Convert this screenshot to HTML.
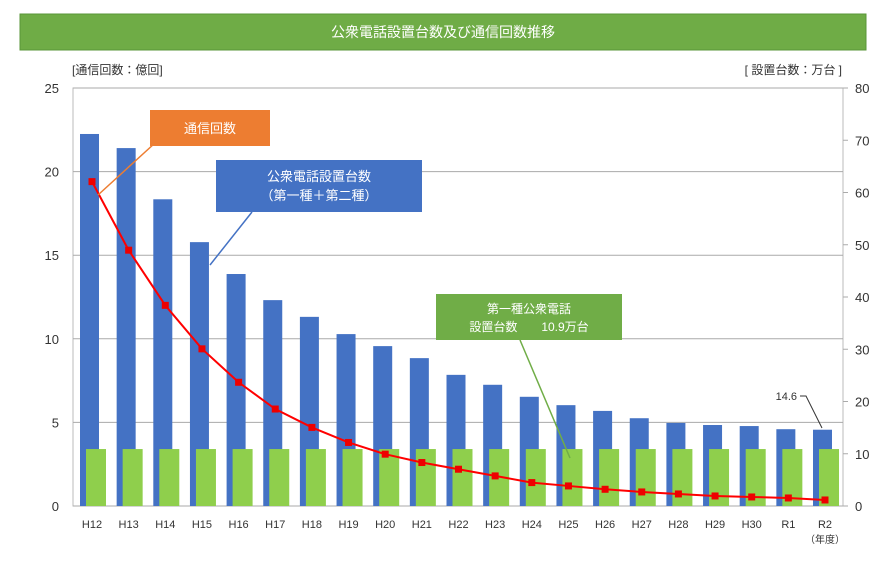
<!DOCTYPE html>
<html><head><meta charset="utf-8"><style>
body{margin:0;background:#fff;font-family:"Liberation Sans","Noto Sans CJK JP",sans-serif;}
svg text{font-family:"Liberation Sans","Noto Sans CJK JP",sans-serif;}
</style></head><body>
<svg id="c" width="886" height="562" xmlns="http://www.w3.org/2000/svg">
<rect x="20" y="14" width="846" height="36" fill="#6fac46" stroke="#5a9638"/>
<text x="443" y="37" font-size="14" fill="#fff" text-anchor="middle">公衆電話設置台数及び通信回数推移</text>
<text x="72" y="74" font-size="12" fill="#333">[通信回数：億回]</text>
<text x="842" y="74" font-size="12" fill="#333" text-anchor="end">[ 設置台数：万台 ]</text>
<g id="g"></g>
</svg>
<script>
const categories=["H12","H13","H14","H15","H16","H17","H18","H19","H20","H21","H22","H23","H24","H25","H26","H27","H28","H29","H30","R1","R2"];
const phoneCounts=[71.2,68.5,58.7,50.5,44.4,39.4,36.2,32.9,30.6,28.3,25.1,23.2,20.9,19.3,18.2,16.8,15.9,15.5,15.3,14.7,14.6];
const type1Counts=[10.9,10.9,10.9,10.9,10.9,10.9,10.9,10.9,10.9,10.9,10.9,10.9,10.9,10.9,10.9,10.9,10.9,10.9,10.9,10.9,10.9];
const calls=[19.4,15.3,12.0,9.4,7.4,5.8,4.7,3.8,3.1,2.6,2.2,1.8,1.4,1.2,1.0,0.84,0.72,0.6,0.54,0.48,0.36];
const leftTicks=[0,5,10,15,20,25];
const rightTicks=[0,10,20,30,40,50,60,70,80];
const NS="http://www.w3.org/2000/svg";
const g=document.getElementById('g');
const L=73,R=843,B=506,T=88;
const yL=v=>B-(v/25)*(B-T);
const yR=v=>B-(v/80)*(B-T);
const xC=i=>92+i*36.65;
function mk(t,a){const e=document.createElementNS(NS,t);for(const k in a)e.setAttribute(k,a[k]);g.appendChild(e);return e;}
let e;
e=mk('rect',{x:L,y:T,width:R-L,height:B-T,fill:'none',stroke:'#bbb'});


leftTicks.forEach(v=>{
 e=mk('line',{x1:L,x2:R,y1:yL(v),y2:yL(v),stroke:'#aaa'});
 
 
 e=mk('text',{x:L-14,y:yL(v)+5,'font-size':13,fill:'#333','text-anchor':'end'});e.textContent=v;
 
 
});
rightTicks.forEach(v=>{
 e=mk('line',{x1:R,x2:R+5,y1:yR(v),y2:yR(v),stroke:'#aaa'});
 
 
 e=mk('text',{x:R+12,y:yR(v)+5,'font-size':13,fill:'#333'});e.textContent=v;
 
 
});
categories.forEach((c,i)=>{
 e=mk('rect',{x:xC(i)-12,y:yR(phoneCounts[i]),width:19,height:B-yR(phoneCounts[i]),fill:'#4472c4'});
 
 
 e=mk('rect',{x:xC(i)-6,y:yR(type1Counts[i]),width:20,height:B-yR(type1Counts[i]),fill:'#8fcf4c'});
 
 
 e=mk('text',{x:xC(i),y:528,'font-size':11,fill:'#333','text-anchor':'middle'});e.textContent=c;
 
 
});
e=mk('text',{x:xC(20),y:543,'font-size':10,fill:'#333','text-anchor':'middle'});e.textContent='（年度）';


let d='';calls.forEach((v,i)=>{d+=(i?'L':'M')+xC(i)+' '+yL(v);});
e=mk('path',{d:d,fill:'none',stroke:'#ff0000','stroke-width':2});


calls.forEach((v,i)=>{
 e=mk('rect',{x:xC(i)-3.5,y:yL(v)-3.5,width:7,height:7,fill:'#e00'});
 
 
});
// callouts
e=mk('line',{x1:98,y1:195,x2:155,y2:143,stroke:'#ed7d31','stroke-width':1.5});


e=mk('rect',{x:150,y:110,width:120,height:36,fill:'#ed7d31'});


e=mk('text',{x:210,y:133,'font-size':13,fill:'#fff','text-anchor':'middle'});e.textContent='通信回数';


e=mk('line',{x1:210,y1:265,x2:252,y2:212,stroke:'#4472c4','stroke-width':1.5});


e=mk('rect',{x:216,y:160,width:206,height:52,fill:'#4472c4'});


e=mk('text',{x:319,y:181,'font-size':13,fill:'#fff','text-anchor':'middle'});e.textContent='公衆電話設置台数';


e=mk('text',{x:319,y:200,'font-size':13,fill:'#fff','text-anchor':'middle'});e.textContent='（第一種＋第二種）';


e=mk('line',{x1:520,y1:340,x2:570,y2:458,stroke:'#70ad47','stroke-width':1.5});


e=mk('rect',{x:436,y:294,width:186,height:46,fill:'#70ad47'});


e=mk('text',{x:529,y:313,'font-size':12,fill:'#fff','text-anchor':'middle'});e.textContent='第一種公衆電話';


e=mk('text',{x:529,y:331,'font-size':12,fill:'#fff','text-anchor':'middle'});e.textContent='設置台数　　10.9万台';


e=mk('path',{d:'M800 396 L806 396 L822 428',fill:'none',stroke:'#333'});


e=mk('text',{x:797,y:400,'font-size':11,fill:'#333','text-anchor':'end'});e.textContent='14.6';


</script>
</body></html>
